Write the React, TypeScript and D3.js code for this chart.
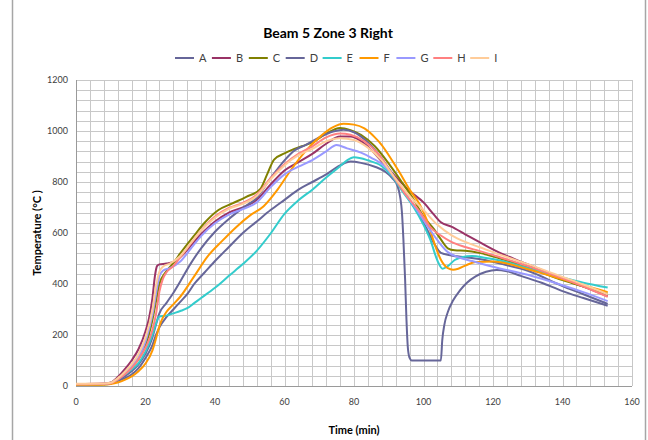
import { useEffect, useRef } from "react";
import * as d3 from "d3";

// series data: [time (min), temperature (°C)]
const seriesNames = ["A", "B", "C", "D", "E", "F", "G", "H", "I"];
const seriesColors = ["#666699", "#993366", "#808000", "#666699", "#33cccc", "#ff9900", "#9999ff", "#ff8080", "#ffcc99"];

const dataA: [number, number][] = [[0,5],[8,8],[10,12],[12,20],[14,30],[16,45],[18,70],[20,110],[22,160],[23,200],[24,230],[26,270],[28,300],[30,330],[32,360],[34,400],[37,445],[40,490],[44,545],[48,600],[52,645],[56,690],[60,730],[64,770],[68,800],[72,830],[76,865],[79,880],[82,875],[86,860],[89,840],[91,815],[92.5,785],[93.3,740],[93.8,680],[94.2,580],[94.7,420],[95.1,260],[95.5,150],[96,110],[96.6,100],[100,100],[105,100],[105.4,180],[106,240],[107,290],[108.5,335],[110.5,375],[112.5,405],[115,430],[118,448],[121,455],[124,450],[128,432],[134,405],[140,372],[146,345],[153,315]];
const dataB: [number, number][] = [[0,8],[8,10],[10,14],[12,35],[14,65],[16,100],[18,145],[20,215],[21,265],[22,345],[22.7,430],[23.3,470],[24,477],[26,480],[28,487],[30,505],[33,550],[36,595],[40,645],[44,680],[48,700],[52,730],[56,790],[60,845],[64,878],[68,910],[72,950],[76,978],[79,978],[82,960],[85,925],[88,880],[92,820],[96,765],[100,720],[103,672],[105,642],[108,625],[112,595],[116,565],[122,522],[128,488],[134,455],[140,420],[146,390],[153,352]];
const dataC: [number, number][] = [[0,6],[8,8],[10,12],[12,28],[14,50],[16,75],[18,105],[20,160],[22,260],[23,330],[24,400],[26,450],[28,482],[30,520],[34,590],[37,640],[41,690],[45,716],[49,742],[53,772],[55,830],[57,888],[60,912],[62,925],[65,940],[68,955],[72,990],[76,1012],[79,1003],[82,985],[86,940],[90,872],[94,795],[97,735],[100,665],[103,615],[105,575],[107,540],[109,532],[112,530],[116,522],[122,500],[130,466],[140,415],[146,390],[153,362]];
const dataD: [number, number][] = [[0,5],[8,8],[10,10],[12,22],[14,38],[16,58],[18,85],[20,127],[22,190],[23,240],[24,285],[26,325],[28,365],[30,410],[33,480],[36,540],[40,605],[44,655],[48,698],[52,738],[56,815],[60,885],[63,925],[66,945],[70,975],[74,998],[77,1005],[80,995],[84,955],[88,892],[92,812],[96,730],[99,665],[101,615],[103,560],[105,522],[108,512],[112,505],[116,498],[122,480],[130,452],[140,392],[146,360],[153,322]];
const dataE: [number, number][] = [[0,4],[8,6],[10,10],[12,25],[14,45],[16,65],[18,90],[20,135],[22,200],[23,245],[24,272],[26,276],[28,285],[30,294],[32,305],[34,325],[36,345],[40,385],[44,432],[48,478],[52,530],[56,598],[60,675],[64,728],[68,770],[72,818],[76,862],[78,885],[80,897],[84,885],[88,862],[91,822],[94,762],[97,705],[100,632],[102,572],[104,492],[105.5,460],[107,470],[109,494],[111,505],[114,510],[118,502],[122,492],[130,462],[140,425],[146,405],[153,386]];
const dataF: [number, number][] = [[0,4],[8,5],[10,8],[12,14],[14,24],[16,38],[18,58],[20,88],[22,140],[23,185],[24,235],[25,268],[26,290],[28,320],[30,350],[34,430],[38,510],[42,568],[46,622],[50,668],[54,705],[58,770],[62,850],[66,920],[70,975],[74,1015],[77,1028],[80,1025],[83,1010],[86,975],[88,945],[90,905],[93,840],[96,770],[99,710],[101,650],[103,565],[105,495],[107,462],[108.5,456],[110,460],[112,472],[115,486],[120,488],[130,458],[140,418],[146,395],[153,368]];
const dataG: [number, number][] = [[0,7],[8,9],[10,12],[12,28],[14,50],[16,78],[18,112],[20,175],[22,280],[23,360],[24,430],[25,452],[27,462],[30,488],[33,538],[36,588],[40,638],[44,672],[48,694],[52,720],[56,780],[60,830],[64,860],[68,886],[72,920],[75,945],[78,932],[82,915],[85,895],[89,860],[92,810],[95,750],[98,692],[101,630],[104,572],[107,525],[110,505],[114,490],[120,468],[130,436],[140,395],[146,368],[153,333]];
const dataH: [number, number][] = [[0,8],[8,9],[10,11],[12,25],[14,45],[16,70],[18,105],[20,150],[22,220],[23,280],[24,370],[25,420],[26,445],[28,470],[30,505],[33,558],[36,610],[40,665],[44,698],[48,718],[52,750],[56,815],[60,870],[64,910],[68,940],[72,975],[76,990],[79,985],[83,960],[87,910],[91,830],[95,748],[99,682],[102,622],[105,590],[108,565],[112,545],[116,530],[122,505],[130,470],[140,422],[146,390],[153,350]];
const dataI: [number, number][] = [[0,9],[8,10],[10,13],[12,30],[14,55],[16,85],[18,125],[20,190],[22,300],[23,390],[24,448],[25,468],[27,480],[30,510],[33,560],[36,610],[40,660],[44,695],[48,714],[52,745],[56,810],[60,865],[64,905],[68,930],[72,960],[76,972],[80,965],[84,935],[88,885],[92,812],[96,745],[100,690],[104,632],[108,592],[112,565],[116,545],[122,515],[130,478],[140,428],[146,398],[153,360]];

const allSeries = [dataA, dataB, dataC, dataD, dataE, dataF, dataG, dataH, dataI];

const xTicks = [0, 20, 40, 60, 80, 100, 120, 140, 160];
const yTicks = [0, 200, 400, 600, 800, 1000, 1200];

const FONT = "Lato, 'Open Sans', sans-serif";

export default function App() {
  const svgRef = useRef<SVGSVGElement>(null);

  useEffect(() => {
    const svg = d3.select(svgRef.current);
    svg.selectAll("*").remove();

    const W = 648, H = 440;
    const left = 76, right = 632, top = 80, bottom = 386;

    svg.attr("width", W).attr("height", H);

    svg.append("rect").attr("width", W).attr("height", H).attr("fill", "#fff");
    // chart frame
    svg.append("rect")
      .attr("x", 12.5).attr("y", -2)
      .attr("width", 633).attr("height", H + 4)
      .attr("fill", "none").attr("stroke", "#a6a6a6").attr("stroke-width", 1.5);

    const x = d3.scaleLinear().domain([0, 160]).range([left, right]);
    const y = d3.scaleLinear().domain([0, 1200]).range([bottom, top]);

    // grid
    const grid = svg.append("g").attr("stroke", "#c8c8c8").attr("stroke-width", 1);
    d3.range(0, 161, 4).forEach((v) => {
      grid.append("line")
        .attr("x1", Math.round(x(v)) + 0.5).attr("x2", Math.round(x(v)) + 0.5)
        .attr("y1", top).attr("y2", bottom);
    });
    d3.range(0, 1201, 40).forEach((v) => {
      grid.append("line")
        .attr("x1", left).attr("x2", right)
        .attr("y1", Math.round(y(v)) + 0.5).attr("y2", Math.round(y(v)) + 0.5);
    });

    // axis lines
    svg.append("line")
      .attr("x1", left + 0.5).attr("x2", left + 0.5)
      .attr("y1", top).attr("y2", bottom)
      .attr("stroke", "#9a9a9a");
    svg.append("line")
      .attr("x1", left).attr("x2", right)
      .attr("y1", Math.round(y(0)) + 0.5).attr("y2", Math.round(y(0)) + 0.5)
      .attr("stroke", "#9a9a9a");

    // tick labels
    svg.append("g").selectAll("text").data(yTicks).enter().append("text")
      .attr("x", left - 8).attr("y", (d) => y(d) + 3)
      .attr("text-anchor", "end")
      .attr("font-family", FONT).attr("font-size", 9).attr("fill", "#404040")
      .text((d) => d);
    svg.append("g").selectAll("text").data(xTicks).enter().append("text")
      .attr("x", (d) => x(d)).attr("y", bottom + 19)
      .attr("text-anchor", "middle")
      .attr("font-family", FONT).attr("font-size", 9).attr("fill", "#404040")
      .text((d) => d);

    // lines
    const line = d3.line<[number, number]>()
      .x((d) => x(d[0]))
      .y((d) => y(d[1]))
      .curve(d3.curveMonotoneX);

    allSeries.forEach((s, i) => {
      svg.append("path")
        .attr("d", line(s))
        .attr("fill", "none")
        .attr("stroke", seriesColors[i])
        .attr("stroke-width", 2)
        .attr("stroke-linejoin", "round");
    });

    // title
    svg.append("text")
      .attr("x", 328).attr("y", 38)
      .attr("text-anchor", "middle")
      .attr("font-family", FONT).attr("font-size", 14).attr("font-weight", "bold")
      .attr("fill", "#000")
      .text("Beam 5 Zone 3 Right");

    // legend
    const legend = svg.append("g");
    seriesNames.forEach((name, i) => {
      const lx = 175 + i * 36.9;
      legend.append("line")
        .attr("x1", lx).attr("x2", lx + 19)
        .attr("y1", 58).attr("y2", 58)
        .attr("stroke", seriesColors[i]).attr("stroke-width", 2);
      legend.append("text")
        .attr("x", lx + 24).attr("y", 62)
        .attr("font-family", FONT).attr("font-size", 11).attr("fill", "#404040")
        .text(name);
    });

    // axis titles
    svg.append("text")
      .attr("x", 354).attr("y", 434)
      .attr("text-anchor", "middle")
      .attr("font-family", FONT).attr("font-size", 11).attr("font-weight", "bold")
      .text("Time (min)");
    svg.append("text")
      .attr("transform", `translate(41, ${(top + bottom) / 2}) rotate(-90)`)
      .attr("text-anchor", "middle")
      .attr("font-family", FONT).attr("font-size", 11).attr("font-weight", "bold")
      .text("Temperature (°C )");
  }, []);

  return (
    <div style={{ position: "absolute", left: 0, top: 0 }}>
      <svg ref={svgRef} />
    </div>
  );
}
